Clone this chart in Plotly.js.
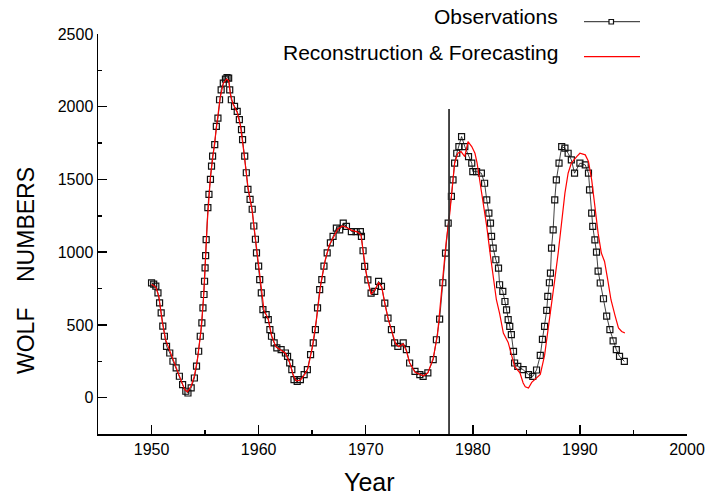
<!DOCTYPE html>
<html>
<head>
<meta charset="utf-8">
<script src="https://cdn.plot.ly/plotly-3.0.1.min.js"></script>
<style>html,body{margin:0;padding:0;background:#fff;}#chart{width:709px;height:496px;}</style>
</head>
<body>
<div id="chart"></div>
<script>
// Observations (year, Wolf number)
const obsYear = [1950.0,1950.2,1950.4,1950.6,1950.75,1950.9,1951.05,1951.2,1951.4,1951.7,1952.0,1952.3,1952.6,1952.9,1953.2,1953.4,1953.7,1954.0,1954.2,1954.4,1954.55,1954.7,1954.8,1954.9,1954.95,1955.0,1955.05,1955.1,1955.26,1955.36,1955.5,1955.6,1955.7,1955.9,1956.05,1956.2,1956.35,1956.5,1956.7,1956.9,1957.05,1957.2,1957.3,1957.45,1957.75,1958.0,1958.2,1958.4,1958.5,1958.7,1958.85,1959.0,1959.2,1959.4,1959.55,1959.7,1959.8,1960.0,1960.1,1960.25,1960.4,1960.7,1960.9,1961.05,1961.2,1961.45,1961.7,1962.1,1962.5,1962.7,1962.9,1963.1,1963.3,1963.6,1963.9,1964.25,1964.55,1964.85,1965.1,1965.3,1965.5,1965.7,1965.9,1966.1,1966.4,1966.7,1966.95,1967.26,1967.57,1967.9,1968.2,1968.66,1969.1,1969.5,1969.6,1969.75,1969.9,1970.2,1970.5,1970.84,1971.2,1971.47,1971.78,1972.08,1972.4,1972.7,1973.0,1973.5,1973.8,1974.1,1974.6,1975.05,1975.36,1975.8,1976.3,1976.6,1976.9,1977.2,1977.45,1977.7,1978.0,1978.15,1978.3,1978.5,1978.7,1978.95,1979.25,1979.6,1979.9,1980.0,1980.35,1980.8,1981.1,1981.3,1981.5,1981.65,1981.75,1981.9,1982.15,1982.4,1982.5,1982.8,1983.0,1983.15,1983.3,1983.45,1983.6,1983.8,1983.9,1984.2,1984.7,1985.2,1985.6,1985.95,1986.3,1986.5,1986.7,1986.9,1987.0,1987.15,1987.25,1987.35,1987.5,1987.65,1987.8,1988.05,1988.3,1988.6,1988.9,1989.2,1989.5,1990.0,1990.5,1990.8,1990.9,1991.1,1991.2,1991.4,1991.55,1991.7,1991.9,1992.2,1992.5,1992.8,1993.1,1993.4,1993.7,1994.15];
const obsWolf = [789,780,766,720,651,583,491,422,353,307,250,204,147,89,44,32,67,135,216,319,422,514,617,709,800,892,977,1087,1306,1397,1500,1591,1660,1740,1865,1922,2048,2116,2162,2190,2200,2196,2116,2048,2002,1968,1911,1842,1774,1660,1546,1432,1363,1295,1180,1089,995,904,812,720,605,571,537,468,422,376,342,330,307,284,239,193,124,112,124,158,193,296,376,468,617,743,812,904,995,1064,1108,1165,1154,1200,1177,1142,1142,1142,1108,1010,902,810,719,730,799,765,650,547,467,376,352,376,330,238,181,158,146,170,261,398,540,790,994,1200,1383,1497,1612,1680,1726,1795,1726,1657,1612,1554,1554,1543,1474,1360,1268,1200,1108,1028,948,891,776,730,661,604,536,490,433,318,238,215,192,158,146,190,290,400,490,600,696,790,856,1028,1154,1360,1497,1612,1726,1715,1680,1635,1543,1612,1600,1543,1429,1268,1177,1085,1000,870,788,680,560,467,390,330,284,249];

// Reconstruction & Forecasting (year, Wolf number)
const recYear = [1950.0,1950.4,1950.7,1951.0,1951.3,1951.7,1952.0,1952.4,1952.8,1953.1,1953.35,1953.7,1954.0,1954.3,1954.6,1954.85,1955.0,1955.2,1955.5,1955.8,1956.1,1956.4,1956.7,1957.0,1957.2,1957.35,1957.6,1958.0,1958.3,1958.6,1959.0,1959.4,1959.7,1960.0,1960.3,1960.5,1960.9,1961.2,1961.6,1962.0,1962.5,1962.9,1963.2,1963.5,1963.9,1964.3,1964.6,1965.0,1965.4,1965.8,1966.2,1966.6,1967.0,1967.4,1967.8,1968.2,1968.7,1969.2,1969.55,1969.8,1970.1,1970.5,1970.85,1971.2,1971.5,1971.8,1972.1,1972.5,1972.8,1973.1,1973.5,1973.8,1974.1,1974.6,1975.0,1975.4,1975.8,1976.3,1976.7,1976.9,1977.2,1977.5,1977.85,1978.15,1978.3,1978.6,1978.9,1979.25,1979.55,1979.9,1980.2,1980.4,1980.65,1980.96,1981.3,1981.6,1981.9,1982.2,1982.5,1982.85,1983.3,1983.6,1983.9,1984.4,1984.7,1984.9,1985.2,1985.5,1985.8,1986.3,1986.7,1987.0,1987.35,1987.65,1987.97,1988.3,1988.6,1988.9,1989.2,1989.7,1990.0,1990.5,1990.8,1991.1,1991.4,1991.7,1992.0,1992.3,1992.6,1992.9,1993.3,1993.6,1993.9,1994.2];
const recWolf = [780,760,690,520,400,320,260,190,110,55,40,80,150,270,450,680,900,1200,1520,1720,1880,2060,2160,2190,2180,2090,2020,1960,1870,1700,1450,1280,1090,900,700,600,540,430,350,330,305,240,160,115,120,160,200,340,540,780,940,1050,1110,1160,1180,1170,1150,1140,1120,980,830,710,740,790,760,640,540,440,370,350,370,320,240,175,160,150,170,270,430,582,800,1062,1268,1497,1612,1680,1692,1657,1760,1726,1680,1612,1497,1360,1177,1000,830,673,580,444,380,300,215,170,101,75,66,105,124,160,290,444,627,810,994,1222,1406,1543,1612,1657,1680,1669,1623,1497,1314,1131,994,936,810,673,558,479,455,444];

// Axis ticks and texts
const xTicks = [1950,1960,1970,1980,1990,2000];
const yTicks = [0,500,1000,1500,2000,2500];
const forecastStart = 1977.78;
const seriesNames = ['Observations','Reconstruction & Forecasting'];

const FONT = 'Liberation Sans, Arial, sans-serif';

const traces = [
  {
    x: obsYear, y: obsWolf, name: seriesNames[0], type: 'scatter', mode: 'lines+markers',
    line: {color: '#111', width: 0.8},
    marker: {symbol: 'square-open', size: 6, color: '#111', line: {width: 1.2, color: '#111'}},
    showlegend: false
  },
  {
    x: recYear, y: recWolf, name: seriesNames[1], type: 'scatter', mode: 'lines',
    line: {color: '#ff0000', width: 1.2},
    showlegend: false
  }
];

const pw = 589, ph = 400, ml = 98, mb = 62;
const px = v => (v - ml) / pw;
const py = v => (496 - mb - v) / ph;

const layout = {
  width: 709, height: 496,
  margin: {l: ml, r: 22, t: 34, b: mb},
  paper_bgcolor: '#fff', plot_bgcolor: '#fff',
  font: {family: FONT, color: '#000', size: 16},
  showlegend: false,
  xaxis: {
    range: [1945, 2000], tickvals: xTicks, ticktext: xTicks.map(String),
    ticks: 'inside', ticklen: 9, tickwidth: 1.5, tickcolor: '#000',
    minor: {tickvals: [1955,1965,1975,1985,1995], ticks: 'inside', ticklen: 4, tickwidth: 1.5, tickcolor: '#000'},
    showline: true, linecolor: '#000', linewidth: 1.5, showgrid: false, zeroline: false,
    tickfont: {family: FONT, size: 16, color: '#000'}
  },
  yaxis: {
    range: [-250, 2500], tickvals: yTicks, ticktext: yTicks.map(String),
    ticks: 'inside', ticklen: 9, tickwidth: 1.5, tickcolor: '#000',
    minor: {tickvals: [-250,250,750,1250,1750,2250], ticks: 'inside', ticklen: 4, tickwidth: 1.5, tickcolor: '#000'},
    showline: true, linecolor: '#000', linewidth: 1.5, showgrid: false, zeroline: false,
    tickfont: {family: FONT, size: 16, color: '#000'}
  },
  shapes: [
    {type: 'line', xref: 'x', yref: 'y', x0: forecastStart, x1: forecastStart, y0: -250, y1: 1985,
     line: {color: '#333', width: 1.8}},
    {type: 'line', xref: 'paper', yref: 'paper', x0: px(584), x1: px(640), y0: py(21.7), y1: py(21.7),
     line: {color: '#222', width: 1}},
    {type: 'rect', xref: 'paper', yref: 'paper', x0: px(609), x1: px(613.5), y0: py(24), y1: py(19.5),
     line: {color: '#111', width: 1.2}, fillcolor: '#fff'},
    {type: 'line', xref: 'paper', yref: 'paper', x0: px(584), x1: px(640), y0: py(56.7), y1: py(56.7),
     line: {color: '#ff0000', width: 1.2}}
  ],
  annotations: [
    {text: seriesNames[0], xref: 'paper', yref: 'paper', x: px(560), y: py(16.5),
     xanchor: 'right', yanchor: 'middle', showarrow: false, font: {family: FONT, size: 21, color: '#000'}},
    {text: seriesNames[1], xref: 'paper', yref: 'paper', x: px(560), y: py(52),
     xanchor: 'right', yanchor: 'middle', showarrow: false, font: {family: FONT, size: 21, color: '#000'}},
    {text: 'WOLF\u00a0\u00a0\u00a0\u00a0NUMBERS', xref: 'paper', yref: 'paper', x: px(26), y: py(271),
     xanchor: 'center', yanchor: 'middle', textangle: -90, showarrow: false, font: {family: FONT, size: 23, color: '#000'}},
    {text: 'Year', xref: 'paper', yref: 'paper', x: px(369), y: py(482),
     xanchor: 'center', yanchor: 'middle', showarrow: false, font: {family: FONT, size: 25, color: '#000'}}
  ]
};

Plotly.newPlot('chart', traces, layout, {displayModeBar: false, staticPlot: true});
</script>
</body>
</html>
